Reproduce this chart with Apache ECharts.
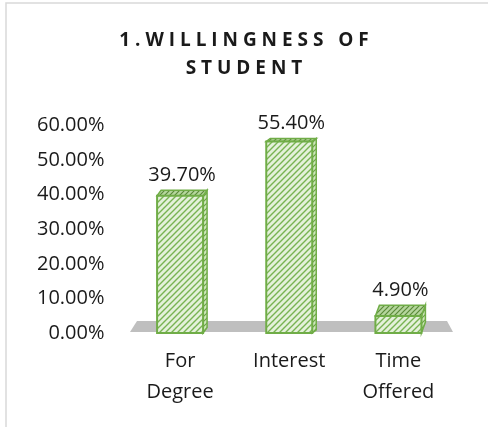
<!DOCTYPE html>
<html>
<head>
<meta charset="utf-8">
<script src="https://cdn.jsdelivr.net/npm/echarts@6/dist/echarts.min.js"></script>
<style>
  html, body { margin: 0; padding: 0; background: #fff; }
  #main { width: 488px; height: 427px; }
</style>
</head>
<body>
<div id="main"></div>
<script>
const categories = ['For Degree', 'Interest', 'Time Offered'];
const values = [39.7, 55.4, 4.9];
const yTicks = { min: 0, max: 60, interval: 10 };
const titleText = '1 . W I L L I N G N E S S   O F\nS T U D E N T';

// hatch tile for the bar faces
function hatch(bg, line, size, lw) {
  const c = document.createElement('canvas');
  c.width = size; c.height = size;
  const ctx = c.getContext('2d');
  ctx.fillStyle = bg;
  ctx.fillRect(0, 0, size, size);
  ctx.strokeStyle = line;
  ctx.lineWidth = lw;
  ctx.beginPath();
  ctx.moveTo(-1, size + 1); ctx.lineTo(size + 1, -1);
  ctx.moveTo(-1, 1); ctx.lineTo(1, -1);
  ctx.moveTo(size - 1, size + 1); ctx.lineTo(size + 1, size - 1);
  ctx.stroke();
  return { image: c, repeat: 'repeat' };
}
const frontFill = hatch('#e4f1da', '#78b352', 6, 1.4);
const topFill = hatch('#b5d69c', '#5a8a3a', 5, 1.2);
const sideFill = hatch('#cfe6bd', '#6aa443', 5, 1.2);

const font = "'Open Sans', sans-serif";
const green = '#70ad47';

const myChart = echarts.init(document.getElementById('main'));
myChart.setOption({
  backgroundColor: '#fff',
  animation: false,
  graphic: [{
    type: 'rect',
    shape: { x: 6, y: 3, width: 520, height: 460 },
    style: { fill: 'none', stroke: '#d9d9d9', lineWidth: 1.5 },
    silent: true,
    z: -10
  }],
  title: {
    text: titleText,
    left: 'center',
    top: 22,
    textStyle: {
      fontFamily: font,
      fontWeight: 'bold',
      fontSize: 19,
      color: '#1a1a1a',
      lineHeight: 28
    }
  },
  grid: { left: 125.5, right: 35, top: 125.5, bottom: 94 },
  xAxis: {
    type: 'category',
    data: categories,
    axisLine: { show: false },
    axisTick: { show: false },
    axisLabel: {
      fontFamily: font,
      fontSize: 20,
      color: '#1a1a1a',
      lineHeight: 31,
      margin: 13,
      formatter: (s) => s.replace(' ', '\n')
    }
  },
  yAxis: {
    type: 'value',
    min: yTicks.min,
    max: yTicks.max,
    interval: yTicks.interval,
    splitLine: { show: false },
    axisLine: { show: false },
    axisTick: { show: false },
    axisLabel: {
      fontFamily: font,
      fontSize: 20,
      color: '#1a1a1a',
      margin: 21,
      formatter: (v) => v.toFixed(2) + '%'
    }
  },
  series: [
    {
      // the grey floor under the bars
      type: 'custom',
      data: [[0, 0]],
      z: 1,
      silent: true,
      renderItem: (params, api) => {
        const cs = params.coordSys;
        const yb = cs.y + cs.height - 1;
        return {
          type: 'polygon',
          shape: {
            points: [
              [cs.x + 4.5, yb], [cs.x + cs.width, yb],
              [cs.x + cs.width - 6, yb - 11], [cs.x + 11.5, yb - 11]
            ]
          },
          style: { fill: '#bfbfbf' }
        };
      }
    },
    {
      type: 'custom',
      data: values.map((v, i) => [i, v]),
      z: 2,
      renderItem: (params, api) => {
        const i = api.value(0);
        const v = api.value(1);
        const base = api.coord([i, 0]);
        const top = api.coord([i, v]);
        const w = 46;
        const x0 = base[0] - w / 2, x1 = base[0] + w / 2;
        const yt = top[1], yb = base[1];
        const dx = 4;
        const dy = 3 + Math.max(0, yt - 141) * 0.045;
        return {
          type: 'group',
          children: [
            {
              type: 'polygon',
              shape: { points: [[x1, yt], [x1 + dx, yt - dy], [x1 + dx, yb - dy], [x1, yb]] },
              style: { fill: sideFill, stroke: green, lineWidth: 1.5 }
            },
            {
              type: 'polygon',
              shape: { points: [[x0, yt], [x1, yt], [x1 + dx, yt - dy], [x0 + dx, yt - dy]] },
              style: { fill: topFill, stroke: green, lineWidth: 1.5 }
            },
            {
              type: 'rect',
              shape: { x: x0, y: yt, width: w, height: yb - yt },
              style: { fill: frontFill, stroke: green, lineWidth: 2 }
            },
            {
              type: 'text',
              x: base[0] + 2,
              y: yt - dy - 15,
              style: {
                text: v.toFixed(2) + '%',
                fontFamily: font,
                fontSize: 20,
                fill: '#1a1a1a',
                align: 'center',
                verticalAlign: 'middle'
              }
            }
          ]
        };
      }
    }
  ]
});
</script>
</body>
</html>
